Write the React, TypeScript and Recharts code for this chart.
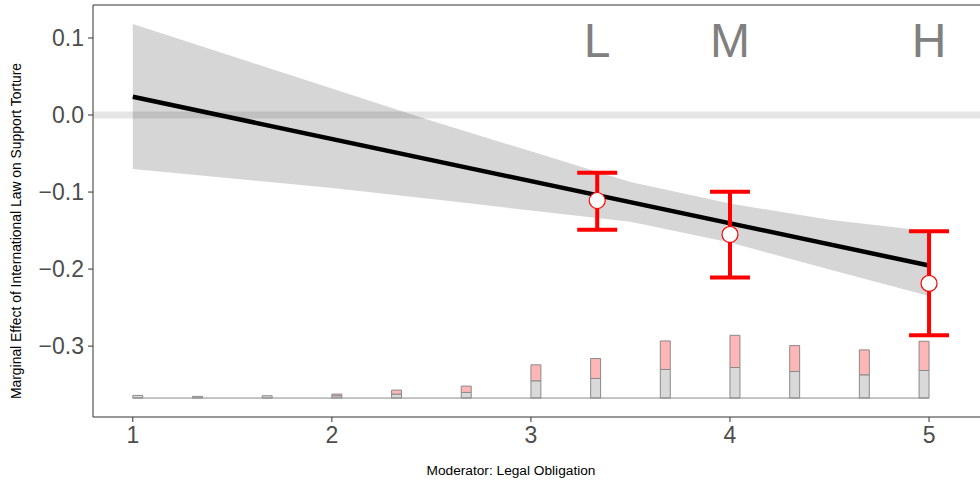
import {
  ComposedChart, Area, Line, Scatter, ErrorBar, XAxis, YAxis,
  ReferenceLine, ReferenceArea,
} from 'recharts'

// axis ranges and ticks
const X_DOMAIN = [0.8, 5.256]
const Y_DOMAIN = [-0.392, 0.1428]
const X_TICKS = [1, 2, 3, 4, 5]
const Y_TICKS = [-0.3, -0.2, -0.1, 0, 0.1]

// linear marginal effect + confidence band
const BAND_X = [1, 1.5, 2, 2.5, 3, 3.5, 4, 4.5, 5]
const BAND_LO = [-0.070, -0.0825, -0.0947, -0.109, -0.124, -0.1387, -0.1656, -0.2005, -0.235]
const BAND_HI = [0.118, 0.0763, 0.0345, -0.0075, -0.0472, -0.0868, -0.115, -0.136, -0.151]
const FIT_X = [1, 5]
const FIT_Y = [0.0237, -0.1953]

// binned estimates (L, M, H)
const BIN_LABELS = ['L', 'M', 'H']
const BIN_X = [3.333, 4, 5]
const BIN_EST = [-0.111, -0.155, -0.2186]
const BIN_LO = [-0.149, -0.211, -0.286]
const BIN_HI = [-0.075, -0.0996, -0.151]
const LABEL_Y = 0.075

// histogram of the moderator (counts, control vs treated)
const HIST_START = [1, 1.3, 1.65, 2, 2.3, 2.65, 3, 3.3, 3.65, 4, 4.3, 4.65, 4.95]
const HIST_CONTROL = [8, 5, 7, 7, 12, 17, 52, 59, 86, 92, 80, 70, 83]
const HIST_TREATED = [0, 0, 0, 5, 12, 19, 48, 60, 86, 97, 78, 75, 88]
const BIN_W = 0.05
const HIST_BASE = -0.3674
const HIST_UNIT = 0.000431

const bandData = BAND_X.map((x, i) => {
  const fi = FIT_X.indexOf(x)
  return { x, band: [BAND_LO[i], BAND_HI[i]], fit: fi >= 0 ? FIT_Y[fi] : null }
})

const binData = BIN_X.map((x, i) => ({
  x,
  y: BIN_EST[i],
  err: [BIN_EST[i] - BIN_LO[i], BIN_HI[i] - BIN_EST[i]],
}))

const letterData = BIN_X.map((x, i) => ({ x, y: LABEL_Y, label: BIN_LABELS[i] }))

const FONT = '"Liberation Sans", Arial, sans-serif'

const fmt = (v: number) => (v < 0 ? '\u2212' + Math.abs(v).toFixed(1) : v.toFixed(1))

const OpenCircle = (p: any) => (
  <circle cx={p.cx} cy={p.cy} r={8} fill="#fff" stroke="#ff0000" strokeWidth={1.2} />
)

const Letter = (p: any) => (
  <text x={p.cx} y={p.cy} textAnchor="middle" fontSize={48} fill="#808080" fontFamily={FONT}>
    {p.payload.label}
  </text>
)

export default function App() {
  return (
    <div style={{ position: 'absolute', left: 0, top: 0 }}>
      <ComposedChart
        width={980}
        height={483}
        data={bandData}
        margin={{ top: 5, right: 0, bottom: 0, left: 0 }}
        style={{ fontFamily: FONT }}
      >
        <XAxis
          dataKey="x"
          type="number"
          domain={X_DOMAIN}
          ticks={X_TICKS}
          allowDataOverflow
          height={66}
          tickSize={5}
          tickMargin={5}
          tick={{ fontSize: 23, fill: '#4d4d4d' }}
          stroke="#333"
          label={{
            value: 'Moderator: Legal Obligation',
            content: () => (
              <text x={511} y={475} textAnchor="middle" fontSize={13.7} fill="#000" fontFamily={FONT}>
                Moderator: Legal Obligation
              </text>
            ),
          }}
        />
        <YAxis
          type="number"
          domain={Y_DOMAIN}
          ticks={Y_TICKS}
          allowDataOverflow
          width={93}
          tickSize={5}
          tickMargin={4}
          tickFormatter={fmt}
          tick={{ fontSize: 23, fill: '#4d4d4d' }}
          stroke="#333"
          label={{
            value: 'Marginal Effect of International Law on Support Torture',
            content: () => (
              <text
                x={0}
                y={0}
                transform="translate(21 231) rotate(-90)"
                textAnchor="middle"
                fontSize={13.9}
                fill="#000"
                fontFamily={FONT}
              >
                Marginal Effect of International Law on Support Torture
              </text>
            ),
          }}
        />
        <ReferenceLine y={Y_DOMAIN[1]} stroke="#333" strokeWidth={1.2} />
        <ReferenceLine y={0} stroke="#000" strokeOpacity={0.1} strokeWidth={7} />
        <Area
          dataKey="band"
          type="linear"
          stroke="none"
          fill="#000"
          fillOpacity={0.16}
          connectNulls
          isAnimationActive={false}
          activeDot={false}
        />
        <ReferenceLine
          segment={[{ x: 1, y: HIST_BASE }, { x: 5, y: HIST_BASE }]}
          stroke="#8a8a8a"
          strokeWidth={1}
        />
        {HIST_START.map((x, i) => (
          <ReferenceArea
            key={'c' + i}
            x1={x}
            x2={x + BIN_W}
            y1={HIST_BASE}
            y2={HIST_BASE + HIST_CONTROL[i] * HIST_UNIT}
            fill="#d9d9d9"
            fillOpacity={1}
            stroke="#8a8a8a"
            strokeWidth={1}
          />
        ))}
        {HIST_START.map((x, i) =>
          HIST_TREATED[i] > 0 ? (
            <ReferenceArea
              key={'t' + i}
              x1={x}
              x2={x + BIN_W}
              y1={HIST_BASE + HIST_CONTROL[i] * HIST_UNIT}
              y2={HIST_BASE + (HIST_CONTROL[i] + HIST_TREATED[i]) * HIST_UNIT}
              fill="#ffb6b6"
              fillOpacity={1}
              stroke="#8a8a8a"
              strokeWidth={1}
            />
          ) : null
        )}
        <Line
          dataKey="fit"
          type="linear"
          stroke="#000"
          strokeWidth={4.5}
          dot={false}
          activeDot={false}
          connectNulls
          isAnimationActive={false}
        />
        <Scatter data={binData} dataKey="y" shape={OpenCircle} isAnimationActive={false}>
          <ErrorBar dataKey="err" direction="y" width={20} stroke="#ff0000" strokeWidth={4} />
        </Scatter>
        <Scatter data={letterData} dataKey="y" shape={Letter} isAnimationActive={false} />
      </ComposedChart>
    </div>
  )
}
